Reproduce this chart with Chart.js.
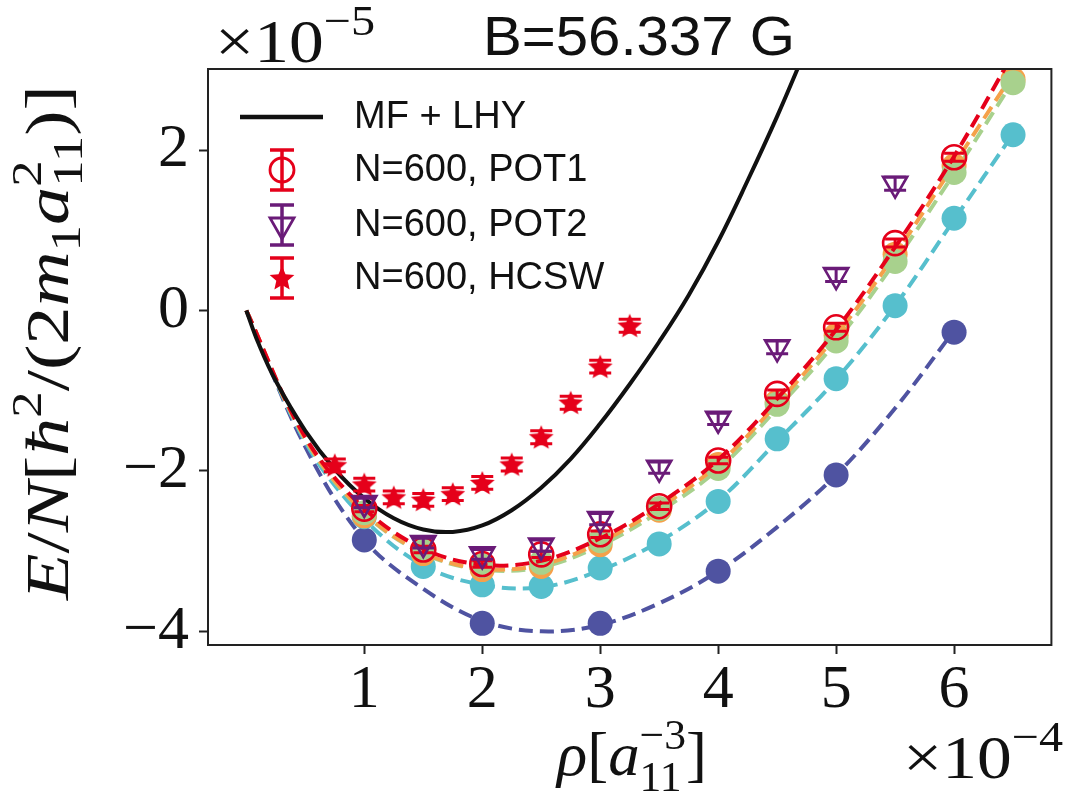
<!DOCTYPE html>
<html><head><meta charset="utf-8">
<script src="https://cdn.jsdelivr.net/npm/chart.js@4.4.0/dist/chart.umd.min.js"></script>
<style>html,body{margin:0;padding:0;background:#fff}canvas{display:block}</style>
</head><body>
<canvas id="c" width="1068" height="801"></canvas>
<script>
// ---- data (x in 1e-4 a11^-3, y in 1e-5) ----
const xTicks = [1, 2, 3, 4, 5, 6];
const xTickLabels = ['1', '2', '3', '4', '5', '6'];
const yTicks = [-4, -2, 0, 2];
const yTickLabels = ['\u22124', '\u22122', '0', '2'];

const mfX = [0, 0.1, 0.25, 0.5, 0.75, 1.0, 1.25, 1.5, 1.75, 2.0, 2.25, 2.5, 2.75, 3.0, 3.25, 3.5, 3.75, 4.0, 4.25, 4.5, 4.75];
const mfY = [0, -0.40, -0.88, -1.50, -1.98, -2.34, -2.59, -2.73, -2.76, -2.68, -2.49, -2.21, -1.85, -1.41, -0.92, -0.39, 0.19, 0.86, 1.62, 2.42, 3.28];

const fitX = [0, 0.5, 1, 1.5, 2, 2.5, 3, 3.5, 4, 4.5, 5, 5.5, 6, 6.5];
const redFitY    = [0, -1.58, -2.47, -2.97, -3.17, -3.12, -2.84, -2.41, -1.86, -1.10, -0.24, 0.79, 1.92, 3.20];
const orangeFitY = [0, -1.60, -2.52, -3.02, -3.22, -3.17, -2.89, -2.46, -1.92, -1.16, -0.31, 0.70, 1.82, 2.95];
const greenFitY  = [0, -1.61, -2.53, -3.03, -3.23, -3.20, -2.93, -2.51, -1.98, -1.22, -0.39, 0.61, 1.71, 2.86];
const cyanFitY   = [0, -1.64, -2.60, -3.18, -3.42, -3.45, -3.24, -2.88, -2.37, -1.63, -0.86, 0.06, 1.13, 2.20];
const blueFitX = [0, 0.5, 1, 1.5, 2, 2.5, 3, 3.5, 4, 4.5, 5, 5.5, 6];
const blueFitY = [0, -1.70, -2.86, -3.47, -3.87, -4.00, -3.92, -3.65, -3.25, -2.70, -2.05, -1.22, -0.25];

const ptsX = [1, 1.5, 2, 2.5, 3, 3.5, 4, 4.5, 5, 5.5, 6, 6.5];
const greenY  = [-2.52, -2.99, -3.18, -3.14, -2.87, -2.47, -1.97, -1.17, -0.38, 0.61, 1.72, 2.84];
const orangeY = [-2.56, -3.03, -3.23, -3.19, -2.92, -2.49, -1.92, -1.14, -0.31, 0.70, 1.80, 2.88];
const cyanY   = [-2.57, -3.19, -3.42, -3.44, -3.21, -2.91, -2.38, -1.60, -0.85, 0.06, 1.15, 2.19];
const blueX = [1, 2, 3, 4, 5, 6];
const blueY = [-2.86, -3.90, -3.90, -3.25, -2.05, -0.27];

const pot1X = [1, 1.5, 2, 2.5, 3, 3.5, 4, 4.5, 5, 5.5, 6];
const pot1Y = [-2.47, -2.98, -3.16, -3.04, -2.79, -2.44, -1.87, -1.04, -0.21, 0.84, 1.91];
const pot1Err = [0.04, 0.04, 0.04, 0.04, 0.04, 0.04, 0.04, 0.05, 0.05, 0.05, 0.05];
const pot2X = [1, 1.5, 2, 2.5, 3, 3.5, 4, 4.5, 5, 5.5];
const pot2Y = [-2.40, -2.90, -3.04, -2.93, -2.60, -1.96, -1.35, -0.46, 0.44, 1.58];
const pot2Err = [0.06, 0.06, 0.06, 0.07, 0.07, 0.07, 0.07, 0.08, 0.08, 0.08];
const hcswX = [0.75, 1, 1.25, 1.5, 1.75, 2, 2.25, 2.5, 2.75, 3, 3.25];
const hcswY = [-1.93, -2.17, -2.33, -2.36, -2.29, -2.15, -1.92, -1.58, -1.15, -0.70, -0.19];
const hcswErr = [0.08, 0.08, 0.08, 0.08, 0.08, 0.08, 0.08, 0.08, 0.08, 0.08, 0.08];

const legendLabels = ['MF + LHY', 'N=600, POT1', 'N=600, POT2', 'N=600, HCSW'];
const titleText = 'B=56.337 G';

// ---- styling ----
const C = {
  red: '#e5001a', purple: '#6a1b78', green: '#a8d18d', orange: '#f5a14a',
  cyan: '#56bfcd', blue: '#4f53a1', black: '#111111', axis: '#222222'
};
const SERIF = '"Liberation Serif", "DejaVu Serif", serif';
const SANS = '"Liberation Sans", Arial, sans-serif';

function pts(xs, ys) { return xs.map((x, i) => ({ x: x, y: ys[i] })); }

function starCanvas(color, R, r) {
  const s = Math.ceil(R * 2 + 2);
  const cv = document.createElement('canvas');
  cv.width = s; cv.height = s;
  const g = cv.getContext('2d');
  g.fillStyle = color;
  g.beginPath();
  for (let k = 0; k < 10; k++) {
    const rad = (k % 2 === 0) ? R : r;
    const a = -Math.PI / 2 + k * Math.PI / 5;
    const px = s / 2 + rad * Math.cos(a), py = s / 2 + rad * Math.sin(a) + 1;
    if (k === 0) g.moveTo(px, py); else g.lineTo(px, py);
  }
  g.closePath(); g.fill();
  return cv;
}
const starImg = starCanvas(C.red, 13, 6);

function fitLine(xs, ys, color, order) {
  return { data: pts(xs, ys), showLine: true, borderColor: color, borderWidth: 4,
    borderDash: [14, 7], pointRadius: 0, tension: 0.35, fill: false, order: order };
}
function dots(xs, ys, color, order) {
  return { data: pts(xs, ys), showLine: false, pointRadius: 12.5, pointBackgroundColor: color,
    pointBorderColor: color, pointBorderWidth: 0, order: order };
}

const datasets = [
  // lower order = drawn on top
  { data: pts(hcswX, hcswY), showLine: false, pointStyle: starImg, pointRadius: 13, order: 1,
    errY: hcswErr, errColor: C.red, capHalf: 11, errWidth: 3 },
  { data: pts(pot2X, pot2Y), showLine: false, pointStyle: 'triangle', rotation: 180, pointRadius: 14,
    pointBackgroundColor: 'rgba(0,0,0,0)', pointBorderColor: C.purple, pointBorderWidth: 2.6, order: 2,
    errY: pot2Err, errColor: C.purple, capHalf: 11, errWidth: 3 },
  { data: pts(pot1X, pot1Y), showLine: false, pointStyle: 'circle', pointRadius: 12,
    pointBackgroundColor: 'rgba(0,0,0,0)', pointBorderColor: C.red, pointBorderWidth: 2.6, order: 3,
    errY: pot1Err, errColor: C.red, capHalf: 10, errWidth: 3 },
  { data: pts(mfX, mfY), showLine: true, borderColor: C.black, borderWidth: 4, pointRadius: 0,
    tension: 0.4, cubicInterpolationMode: 'default', fill: false, order: 4 },
  fitLine(fitX, redFitY, C.red, 5),
  dots(ptsX, greenY, C.green, 6),
  dots(ptsX, orangeY, C.orange, 7),
  fitLine(fitX, orangeFitY, C.orange, 8),
  fitLine(fitX, greenFitY, C.green, 9),
  dots(ptsX, cyanY, C.cyan, 10),
  fitLine(fitX, cyanFitY, C.cyan, 11),
  dots(blueX, blueY, C.blue, 12),
  fitLine(blueFitX, blueFitY, C.blue, 13)
];

const errPlugin = {
  id: 'errbars',
  beforeDatasetDraw(chart, args) {
    const ds = chart.data.datasets[args.index];
    if (!ds.errY) return;
    const ctx = chart.ctx, xs = chart.scales.x, ys = chart.scales.y, a = chart.chartArea;
    ctx.save();
    ctx.beginPath(); ctx.rect(a.left, a.top, a.right - a.left, a.bottom - a.top); ctx.clip();
    ctx.strokeStyle = ds.errColor; ctx.lineWidth = ds.errWidth;
    ds.data.forEach((p, i) => {
      const e = ds.errY[i], px = xs.getPixelForValue(p.x);
      const y1 = ys.getPixelForValue(p.y + e), y2 = ys.getPixelForValue(p.y - e), c = ds.capHalf;
      ctx.beginPath();
      ctx.moveTo(px, y1); ctx.lineTo(px, y2);
      ctx.moveTo(px - c, y1); ctx.lineTo(px + c, y1);
      ctx.moveTo(px - c, y2); ctx.lineTo(px + c, y2);
      ctx.stroke();
    });
    ctx.restore();
  }
};

function runsWidth(ctx, runs) {
  let w = 0;
  for (const r of runs) {
    if (r.stack) {
      let m = 0;
      for (const s of r.stack) { ctx.font = s.font; m = Math.max(m, ctx.measureText(s.t).width + (s.dx || 0)); }
      w += m;
    } else { ctx.font = r.font; w += ctx.measureText(r.t).width + (r.kern || 0); }
  }
  return w;
}
function drawRuns(ctx, runs) {
  let x = 0;
  for (const r of runs) {
    if (r.stack) {
      let m = 0;
      for (const s of r.stack) {
        ctx.font = s.font; ctx.fillText(s.t, x + (s.dx || 0), s.dy || 0);
        m = Math.max(m, ctx.measureText(s.t).width + (s.dx || 0));
      }
      x += m;
    } else {
      ctx.font = r.font; ctx.fillText(r.t, x, r.dy || 0);
      x += ctx.measureText(r.t).width + (r.kern || 0);
    }
  }
}
function placeRuns(ctx, runs, x0, y0, targetW, rot) {
  ctx.save();
  ctx.translate(x0, y0);
  if (rot) ctx.rotate(rot);
  ctx.textAlign = 'left'; ctx.textBaseline = 'alphabetic'; ctx.fillStyle = '#111';
  const w = runsWidth(ctx, runs);
  ctx.scale(targetW / w, 1);
  drawRuns(ctx, runs);
  ctx.restore();
}

const decorPlugin = {
  id: 'decor',
  afterDraw(chart) {
    const ctx = chart.ctx, a = chart.chartArea;
    // frame
    ctx.save();
    ctx.strokeStyle = C.axis; ctx.lineWidth = 2;
    ctx.strokeRect(a.left, a.top, a.right - a.left, a.bottom - a.top);
    ctx.restore();

    const F = 62, S = 43;
    const it = 'italic ' + F + 'px ' + SERIF, rm = F + 'px ' + SERIF;
    const sm = S + 'px ' + SERIF;

    // title
    ctx.save();
    ctx.font = '56px ' + SANS; ctx.fillStyle = '#111'; ctx.textBaseline = 'alphabetic';
    const tw = ctx.measureText(titleText).width;
    ctx.translate(483, 55); ctx.scale(312 / tw, 1); ctx.fillText(titleText, 0, 0);
    ctx.restore();

    // multiplier labels
    placeRuns(ctx, [{ t: '\u00d710', font: rm }, { t: '\u22125', font: sm, dy: -27 }], 215, 62, 160);
    placeRuns(ctx, [{ t: '\u00d710', font: rm }, { t: '\u22124', font: sm, dy: -27 }], 903, 778, 160);

    // x label  rho[a_11^-3]
    placeRuns(ctx, [
      { t: '\u03c1', font: it }, { t: '[', font: rm }, { t: 'a', font: it },
      { stack: [{ t: '\u22123', font: sm, dy: -26 }, { t: '11', font: sm, dy: 16 }] },
      { t: ']', font: rm }
    ], 557, 775, 150);

    // y label  E/N[hbar^2/(2 m_1 a_11^2)]
    placeRuns(ctx, [
      { t: 'E', font: it }, { t: '/', font: rm }, { t: 'N', font: it }, { t: '[', font: rm },
      { t: '\u0127', font: it }, { t: '2', font: sm, dy: -27 }, { t: '/(', font: rm },
      { t: '2', font: rm }, { t: 'm', font: it }, { t: '1', font: sm, dy: 12 },
      { t: 'a', font: it },
      { stack: [{ t: '2', font: sm, dy: -27 }, { t: '11', font: sm, dy: 14 }] },
      { t: ')]', font: rm }
    ], 68, 600, 515, -Math.PI / 2);

    // legend
    ctx.save();
    const rows = [117, 170, 225, 278], mx = 282;
    ctx.strokeStyle = C.black; ctx.lineWidth = 4.5;
    ctx.beginPath(); ctx.moveTo(240, rows[0]); ctx.lineTo(323, rows[0]); ctx.stroke();
    function ebar(y, col) {
      ctx.strokeStyle = col; ctx.lineWidth = 3.5;
      ctx.beginPath();
      ctx.moveTo(mx, y - 20); ctx.lineTo(mx, y + 20);
      ctx.moveTo(mx - 12, y - 20); ctx.lineTo(mx + 12, y - 20);
      ctx.moveTo(mx - 12, y + 20); ctx.lineTo(mx + 12, y + 20);
      ctx.stroke();
    }
    ebar(rows[1], C.red);
    ctx.lineWidth = 2.8; ctx.strokeStyle = C.red;
    ctx.beginPath(); ctx.arc(mx, rows[1], 12, 0, Math.PI * 2); ctx.stroke();
    ebar(rows[2], C.purple);
    ctx.lineWidth = 2.8; ctx.strokeStyle = C.purple;
    ctx.beginPath();
    ctx.moveTo(mx - 12, rows[2] - 7); ctx.lineTo(mx + 12, rows[2] - 7); ctx.lineTo(mx, rows[2] + 14); ctx.closePath();
    ctx.stroke();
    ebar(rows[3], C.red);
    ctx.drawImage(starImg, mx - starImg.width / 2, rows[3] - starImg.height / 2);
    ctx.fillStyle = '#111'; ctx.font = '38px ' + SANS; ctx.textBaseline = 'middle';
    legendLabels.forEach((t, i) => ctx.fillText(t, 354, rows[i] + 1));
    ctx.restore();
  }
};

new Chart(document.getElementById('c'), {
  type: 'scatter',
  data: { datasets: datasets },
  plugins: [errPlugin, decorPlugin],
  options: {
    responsive: false, animation: false, devicePixelRatio: 1,
    layout: { padding: { top: 69, right: 4, left: 0, bottom: 0 } },
    plugins: { legend: { display: false }, tooltip: { enabled: false }, title: { display: false } },
    scales: {
      x: {
        type: 'linear', min: -0.325, max: 6.825,
        afterBuildTicks: s => { s.ticks = xTicks.map(v => ({ value: v })); },
        afterFit: s => { s.height = 156; },
        ticks: { font: { family: SERIF, size: 62 }, color: '#111', padding: 0, maxRotation: 0,
          callback: (v) => xTickLabels[xTicks.indexOf(v)] },
        grid: { drawOnChartArea: false, drawTicks: true, tickLength: 9, tickWidth: 2, tickColor: C.axis },
        border: { display: true, color: C.axis, width: 2 }
      },
      y: {
        type: 'linear', min: -4.17, max: 3.01,
        afterBuildTicks: s => { s.ticks = yTicks.map(v => ({ value: v })); },
        afterFit: s => { s.width = 208; },
        ticks: { font: { family: SERIF, size: 62 }, color: '#111', padding: 10,
          callback: (v) => yTickLabels[yTicks.indexOf(v)] },
        grid: { drawOnChartArea: false, drawTicks: true, tickLength: 9, tickWidth: 2, tickColor: C.axis },
        border: { display: true, color: C.axis, width: 2 }
      }
    }
  }
});
</script>
</body></html>
